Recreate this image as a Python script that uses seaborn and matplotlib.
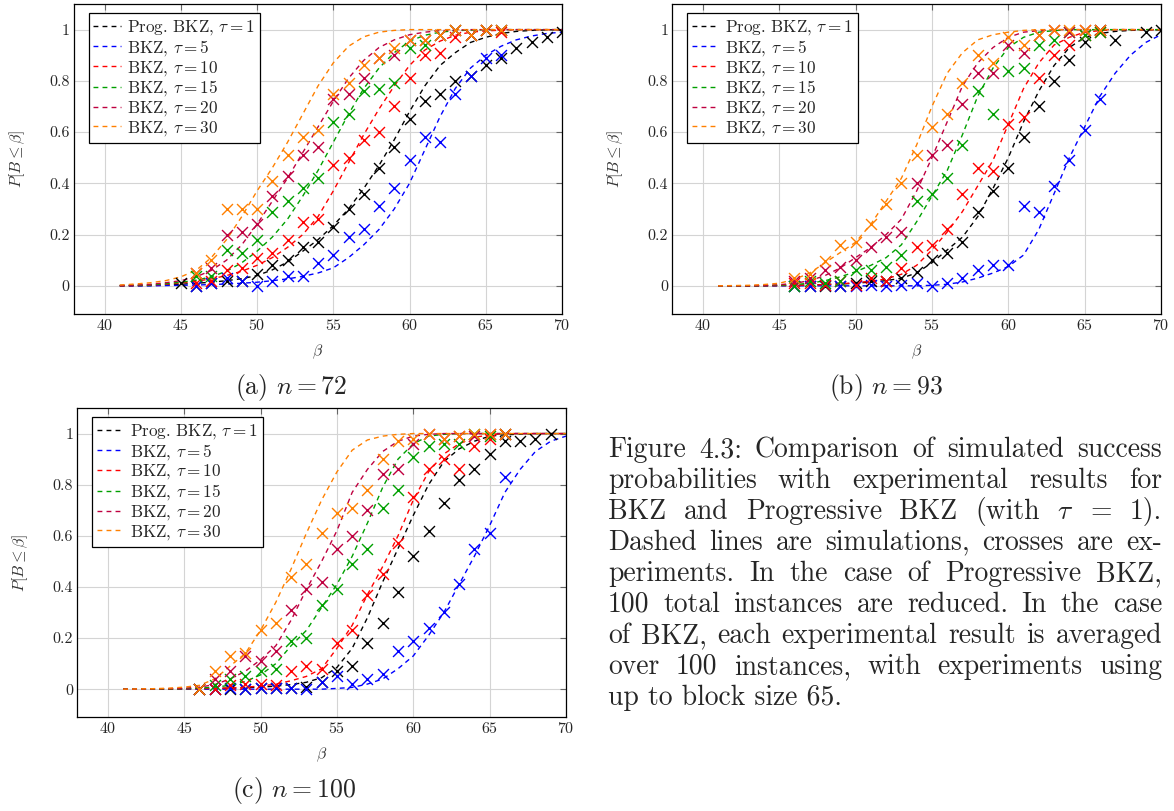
import matplotlib
matplotlib.use("Agg")
import matplotlib.pyplot as plt
import seaborn as sns
import pandas as pd

sns.set_style("white")
plt.rcParams.update({
    "font.family": "serif",
    "font.serif": ["cmr10", "DejaVu Serif"],
    "mathtext.fontset": "cm",
    "axes.unicode_minus": False,
    "axes.formatter.use_mathtext": True,
})

# ---------------- data ----------------
series_labels = [r"Prog. BKZ, $\tau = 1$", r"BKZ, $\tau = 5$", r"BKZ, $\tau = 10$",
                 r"BKZ, $\tau = 15$", r"BKZ, $\tau = 20$", r"BKZ, $\tau = 30$"]
series_colors = ["#000000", "#0000FF", "#FF0000", "#00A000", "#BF0040", "#FF8000"]

beta_sim = list(range(41, 71))
beta_exp = list(range(46, 67))
beta_prog_a = list(range(45, 71))
beta_prog_b = list(range(46, 68)) + [69, 70]
beta_prog_c = list(range(46, 70))

# (a) n = 72 : simulations
a_sim_prog = [0, 0, 0.001, 0.003, 0.006, 0.01, 0.014, 0.02, 0.028, 0.04, 0.062, 0.093, 0.135, 0.18, 0.235,
              0.30, 0.38, 0.47, 0.57, 0.68, 0.78, 0.86, 0.91, 0.95, 0.97, 0.985, 0.993, 0.997, 0.999, 1.0]
a_sim_5 = [0, 0, 0, 0.001, 0.002, 0.003, 0.005, 0.007, 0.01, 0.014, 0.02, 0.027, 0.037, 0.05, 0.07,
           0.11, 0.16, 0.22, 0.30, 0.40, 0.53, 0.66, 0.77, 0.85, 0.90, 0.935, 0.96, 0.975, 0.985, 0.99]
a_sim_10 = [0, 0.001, 0.003, 0.006, 0.011, 0.018, 0.027, 0.04, 0.057, 0.08, 0.11, 0.15, 0.20, 0.27, 0.37,
            0.48, 0.59, 0.69, 0.78, 0.86, 0.92, 0.955, 0.978, 0.99, 0.995, 0.998, 1, 1, 1, 1]
a_sim_15 = [0.001, 0.002, 0.004, 0.008, 0.014, 0.022, 0.035, 0.057, 0.09, 0.135, 0.19, 0.26, 0.35, 0.45, 0.56,
            0.67, 0.77, 0.85, 0.91, 0.955, 0.978, 0.99, 0.996, 0.998, 1, 1, 1, 1, 1, 1]
a_sim_20 = [0.001, 0.003, 0.006, 0.012, 0.02, 0.035, 0.06, 0.10, 0.16, 0.24, 0.33, 0.42, 0.52, 0.62, 0.72,
            0.81, 0.88, 0.93, 0.96, 0.98, 0.99, 0.996, 0.998, 1, 1, 1, 1, 1, 1, 1]
a_sim_30 = [0.003, 0.007, 0.012, 0.02, 0.035, 0.06, 0.11, 0.18, 0.27, 0.37, 0.46, 0.56, 0.67, 0.78, 0.87,
            0.935, 0.972, 0.99, 0.997, 1, 1, 1, 1, 1, 1, 1, 1, 1, 1, 1]
# (a) experiments
a_exp_prog = [0.01, 0.0, 0.01, 0.02, 0.02, 0.045, 0.08, 0.10, 0.15, 0.17, 0.23, 0.30, 0.36, 0.46, 0.54,
              0.65, 0.72, 0.75, 0.80, 0.82, 0.86, 0.89, 0.93, 0.95, 0.97, 0.99]
a_exp_5 = [0.0, 0.01, 0.03, 0.02, 0.0, 0.02, 0.04, 0.04, 0.09, 0.12, 0.19, 0.22, 0.31, 0.38, 0.49,
           0.58, 0.56, 0.75, 0.82, 0.89, 0.90]
a_exp_10 = [0.01, 0.02, 0.06, 0.07, 0.11, 0.13, 0.18, 0.25, 0.26, 0.47, 0.50, 0.57, 0.60, 0.70, 0.81,
            0.90, 0.91, 0.97, 0.98, 1.0, 0.99]
a_exp_15 = [0.04, 0.04, 0.14, 0.13, 0.18, 0.29, 0.33, 0.38, 0.42, 0.64, 0.67, 0.76, 0.77, 0.79, 0.93,
            0.94, 0.98, 1.0, 0.98, 1.0, 1.0]
a_exp_20 = [0.05, 0.07, 0.20, 0.21, 0.24, 0.35, 0.43, 0.51, 0.54, 0.73, 0.75, 0.81, 0.89, 0.90, 0.96,
            0.96, 0.98, 1.0, 0.98, 1.0, 1.0]
a_exp_30 = [0.05, 0.10, 0.30, 0.30, 0.30, 0.41, 0.51, 0.58, 0.61, 0.75, 0.79, 0.86, 0.89, 0.93, 0.96,
            0.96, 0.98, 1.0, 0.98, 1.0, 1.0]

# (b) n = 93 : simulations
b_sim_prog = [0, 0, 0, 0, 0.001, 0.002, 0.003, 0.005, 0.007, 0.01, 0.015, 0.02, 0.03, 0.05, 0.09,
              0.14, 0.19, 0.27, 0.38, 0.50, 0.64, 0.76, 0.86, 0.93, 0.97, 0.985, 0.993, 0.997, 0.999, 1.0]
b_sim_5 = [0, 0, 0, 0, 0, 0, 0, 0, 0, 0, 0, 0, 0, 0, 0.002,
           0.006, 0.015, 0.03, 0.05, 0.075, 0.12, 0.22, 0.36, 0.50, 0.62, 0.74, 0.83, 0.90, 0.95, 0.98]
b_sim_10 = [0, 0, 0, 0, 0.001, 0.002, 0.003, 0.005, 0.008, 0.012, 0.018, 0.027, 0.045, 0.08, 0.14,
            0.21, 0.29, 0.39, 0.49, 0.63, 0.77, 0.87, 0.94, 0.97, 0.99, 0.996, 1, 1, 1, 1]
b_sim_15 = [0, 0, 0, 0.001, 0.002, 0.005, 0.01, 0.02, 0.035, 0.055, 0.08, 0.11, 0.16, 0.25, 0.35,
            0.45, 0.59, 0.74, 0.85, 0.93, 0.97, 0.99, 0.996, 1, 1, 1, 1, 1, 1, 1]
b_sim_20 = [0, 0, 0, 0.002, 0.004, 0.01, 0.02, 0.04, 0.07, 0.11, 0.15, 0.20, 0.26, 0.37, 0.50,
            0.64, 0.78, 0.87, 0.93, 0.97, 0.99, 0.996, 1, 1, 1, 1, 1, 1, 1, 1]
b_sim_30 = [0, 0.001, 0.002, 0.005, 0.01, 0.025, 0.05, 0.09, 0.13, 0.17, 0.24, 0.33, 0.42, 0.55, 0.70,
            0.83, 0.91, 0.96, 0.98, 0.99, 0.997, 1, 1, 1, 1, 1, 1, 1, 1, 1]
# (b) experiments
b_exp_prog = [0.0, 0.0, 0.0, 0.0, 0.01, 0.02, 0.02, 0.03, 0.055, 0.10, 0.13, 0.17, 0.29, 0.37, 0.46,
              0.58, 0.70, 0.80, 0.88, 0.95, 1.0, 0.96, 0.99, 1.0]
b_exp_5 = [0, 0, 0.004, 0, 0, 0.004, 0, 0.004, 0.01, 0.0, 0.01, 0.03, 0.06, 0.08, 0.08,
           0.31, 0.29, 0.39, 0.49, 0.61, 0.73]
b_exp_10 = [0.01, 0.01, 0.004, 0.017, 0.004, 0.03, 0.02, 0.07, 0.15, 0.16, 0.22, 0.36, 0.46, 0.45, 0.63,
            0.66, 0.81, 0.90, 0.94, 0.98, 0.99]
b_exp_15 = [0.0, 0.02, 0.01, 0.02, 0.06, 0.06, 0.075, 0.12, 0.33, 0.36, 0.42, 0.55, 0.76, 0.67, 0.84,
            0.85, 0.94, 0.96, 0.99, 0.98, 0.99]
b_exp_20 = [0.017, 0.03, 0.06, 0.075, 0.10, 0.15, 0.19, 0.21, 0.40, 0.51, 0.55, 0.71, 0.83, 0.83, 0.94,
            0.91, 0.98, 1.0, 0.99, 1.0, 1.0]
b_exp_30 = [0.03, 0.045, 0.095, 0.16, 0.17, 0.24, 0.32, 0.40, 0.51, 0.62, 0.67, 0.79, 0.90, 0.87, 0.97,
            0.94, 0.98, 1.0, 1.0, 1.0, 1.0]

# (c) n = 100 : simulations
c_sim_prog = [0, 0, 0, 0, 0.001, 0.002, 0.003, 0.004, 0.006, 0.008, 0.012, 0.018, 0.027, 0.045, 0.085,
              0.16, 0.28, 0.42, 0.55, 0.68, 0.80, 0.89, 0.94, 0.97, 0.99, 0.995, 0.998, 1, 1, 1]
c_sim_5 = [0, 0, 0, 0, 0, 0, 0, 0, 0, 0, 0, 0, 0, 0, 0.003,
           0.007, 0.02, 0.04, 0.08, 0.13, 0.21, 0.30, 0.41, 0.52, 0.64, 0.77, 0.86, 0.93, 0.97, 0.99]
c_sim_10 = [0, 0, 0, 0, 0.001, 0.002, 0.003, 0.005, 0.008, 0.012, 0.02, 0.033, 0.05, 0.08, 0.16,
            0.25, 0.37, 0.48, 0.60, 0.74, 0.85, 0.92, 0.96, 0.985, 0.995, 1, 1, 1, 1, 1]
c_sim_15 = [0, 0, 0, 0.001, 0.002, 0.004, 0.008, 0.015, 0.03, 0.056, 0.10, 0.17, 0.23, 0.32, 0.41,
            0.52, 0.65, 0.79, 0.90, 0.96, 0.99, 0.997, 1, 1, 1, 1, 1, 1, 1, 1]
c_sim_20 = [0, 0, 0.001, 0.002, 0.004, 0.008, 0.018, 0.04, 0.07, 0.115, 0.17, 0.27, 0.39, 0.50, 0.62,
            0.77, 0.86, 0.93, 0.97, 0.99, 0.997, 1, 1, 1, 1, 1, 1, 1, 1, 1]
c_sim_30 = [0, 0.001, 0.002, 0.004, 0.008, 0.015, 0.04, 0.09, 0.14, 0.23, 0.34, 0.47, 0.61, 0.74, 0.85,
            0.935, 0.975, 0.99, 0.997, 1, 1, 1, 1, 1, 1, 1, 1, 1, 1, 1]
# (c) experiments
c_exp_prog = [0, 0, 0, 0, 0.005, 0.005, 0.004, 0.01, 0.03, 0.07, 0.09, 0.18, 0.26, 0.38, 0.52,
              0.62, 0.73, 0.82, 0.86, 0.92, 0.97, 0.97, 0.98, 1.0]
c_exp_5 = [0, 0, 0.004, 0, 0.004, 0.004, 0.004, 0, 0.03, 0.05, 0.02, 0.04, 0.06, 0.15, 0.19,
           0.24, 0.30, 0.41, 0.55, 0.61, 0.83]
c_exp_10 = [0.0, 0.0, 0.015, 0.02, 0.02, 0.017, 0.07, 0.09, 0.08, 0.18, 0.23, 0.37, 0.45, 0.57, 0.75,
            0.86, 0.90, 0.86, 0.95, 0.98, 1.0]
c_exp_15 = [0.0, 0.015, 0.04, 0.05, 0.07, 0.08, 0.19, 0.20, 0.33, 0.39, 0.49, 0.55, 0.71, 0.78, 0.91,
            0.95, 0.96, 0.96, 1.0, 0.99, 1.0]
c_exp_20 = [0.0, 0.04, 0.07, 0.13, 0.11, 0.15, 0.31, 0.39, 0.42, 0.55, 0.60, 0.70, 0.84, 0.86, 0.96,
            1.0, 0.98, 0.99, 0.99, 1.0, 1.0]
c_exp_30 = [0.0, 0.07, 0.13, 0.14, 0.23, 0.26, 0.44, 0.49, 0.61, 0.69, 0.71, 0.78, 0.90, 0.97, 0.98,
            1.0, 0.98, 0.99, 1.0, 1.0, 1.0]

x_ticks = [40, 45, 50, 55, 60, 65, 70]
y_ticks = [0, 0.2, 0.4, 0.6, 0.8, 1.0]
y_tick_labels = ["0", "0.2", "0.4", "0.6", "0.8", "1"]

subcaptions = [r"(a) $n = 72$", r"(b) $n = 93$", r"(c) $n = 100$"]
caption_lines = [
    "Figure 4.3: Comparison of simulated success",
    "probabilities with experimental results for",
    r"BKZ and Progressive BKZ (with $\tau$ = 1).",
    "Dashed lines are simulations, crosses are ex-",
    "periments. In the case of Progressive BKZ,",
    "100 total instances are reduced. In the case",
    "of BKZ, each experimental result is averaged",
    "over 100 instances, with experiments using",
    "up to block size 65.",
]

panels = [
    dict(sims=[a_sim_prog, a_sim_5, a_sim_10, a_sim_15, a_sim_20, a_sim_30],
         exps=[(beta_prog_a, a_exp_prog), (beta_exp, a_exp_5), (beta_exp, a_exp_10),
               (beta_exp, a_exp_15), (beta_exp, a_exp_20), (beta_exp, a_exp_30)]),
    dict(sims=[b_sim_prog, b_sim_5, b_sim_10, b_sim_15, b_sim_20, b_sim_30],
         exps=[(beta_prog_b, b_exp_prog), (beta_exp, b_exp_5), (beta_exp, b_exp_10),
               (beta_exp, b_exp_15), (beta_exp, b_exp_20), (beta_exp, b_exp_30)]),
    dict(sims=[c_sim_prog, c_sim_5, c_sim_10, c_sim_15, c_sim_20, c_sim_30],
         exps=[(beta_prog_c, c_exp_prog), (beta_exp, c_exp_5), (beta_exp, c_exp_10),
               (beta_exp, c_exp_15), (beta_exp, c_exp_20), (beta_exp, c_exp_30)]),
]

# ---------------- layout ----------------
W, H = 1174, 811
fig = plt.figure(figsize=(W / 100, H / 100), dpi=100)


def px_axes(left, top, right, bottom):
    return fig.add_axes([left / W, 1 - bottom / H, (right - left) / W, (bottom - top) / H])


axes = [px_axes(74, 4, 562, 314), px_axes(672.3, 4, 1161, 314), px_axes(77.3, 408, 566, 717.3)]

for ax, panel in zip(axes, panels):
    handles = []
    for sim, (bx, by), lab, col in zip(panel["sims"], panel["exps"], series_labels, series_colors):
        df_sim = pd.DataFrame({"beta": beta_sim, "p": sim})
        sns.lineplot(data=df_sim, x="beta", y="p", ax=ax, color=col, linewidth=1.0,
                     linestyle=(0, (3.5, 3)), estimator=None, sort=False, label=lab)
        handles.append(ax.lines[-1])
        df_exp = pd.DataFrame({"beta": bx, "p": by})
        sns.scatterplot(data=df_exp, x="beta", y="p", ax=ax, marker="x", color=col,
                        s=62, linewidth=1.0, legend=False, zorder=3)
    ax.set_xlim(38, 70)
    ax.set_ylim(-0.11, 1.1)
    ax.set_xticks(x_ticks)
    ax.set_yticks(y_ticks)
    ax.set_yticklabels(y_tick_labels)
    ax.grid(True, color="#d4d4d4", linewidth=0.8)
    ax.set_axisbelow(True)
    ax.tick_params(direction="in", length=4, width=0.8, color="#666666", top=True, right=True,
                   labelsize=11.5, pad=3)
    for sp in ax.spines.values():
        sp.set_color("black")
        sp.set_linewidth(0.9)
    ax.set_xlabel(r"$\beta$", fontsize=11.5, color="#333333")
    ax.set_ylabel(r"$P[B \leq \beta]$", fontsize=11.5, color="#333333")
    ax.xaxis.set_label_coords(0.5, -0.122)
    ax.xaxis.label.set_va("center")
    ax.yaxis.set_label_coords(-0.117, 0.5)
    ax.yaxis.label.set_va("center")
    leg = ax.legend(handles=handles, labels=series_labels, loc="upper left",
                    bbox_to_anchor=(0.030, 0.970), fontsize=12.3, frameon=True, fancybox=False,
                    edgecolor="black", framealpha=1, handlelength=1.6, handletextpad=0.35,
                    borderpad=0.28, labelspacing=0.05, borderaxespad=0)
    leg.get_frame().set_linewidth(0.9)

# sub-captions
for (cx, cy), txt in zip([(291, 388), (886, 388), (294, 790)], subcaptions):
    fig.text(cx / W, 1 - cy / H, txt, ha="center", va="center", fontsize=18.5)

# justified caption (font size fitted so the longest line is nearly natural width)
renderer = fig.canvas.get_renderer()
x_left, x_right = 608, 1162
base0, dy = 457, 31.0
probe_size = 20.0
nat = []
for line in caption_lines[:-1]:
    t = fig.text(0, 0, line, fontsize=probe_size)
    nat.append(t.get_window_extent(renderer=renderer).width)
    t.remove()
cap_size = probe_size * 0.985 * (x_right - x_left) / max(nat)

for i, line in enumerate(caption_lines):
    yb = 1 - (base0 + i * dy) / H
    if i == len(caption_lines) - 1:
        fig.text(x_left / W, yb, line, ha="left", va="baseline", fontsize=cap_size)
        continue
    words = line.split(" ")
    texts, widths = [], []
    for w in words:
        t = fig.text(0, yb, w, ha="left", va="baseline", fontsize=cap_size)
        texts.append(t)
        widths.append(t.get_window_extent(renderer=renderer).width)
    gap = (x_right - x_left - sum(widths)) / (len(words) - 1)
    xpos = x_left
    for t, wd in zip(texts, widths):
        t.set_x(xpos / W)
        xpos += wd + gap

fig.savefig("out.png", dpi=100)
